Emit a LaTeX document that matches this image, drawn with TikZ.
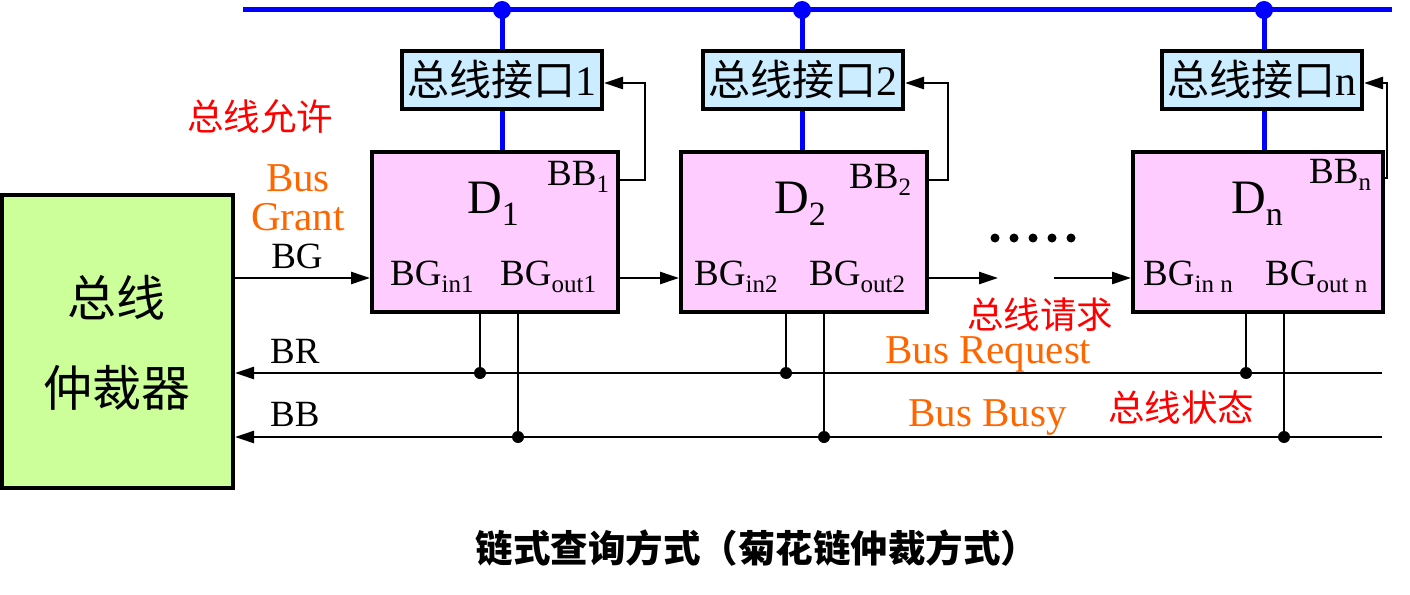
\documentclass[tikz,border=0pt]{standalone}
\usepackage{fontspec}
\setmainfont{Liberation Serif}
\newfontfamily\cjk{Noto Sans CJK SC}
\usetikzlibrary{arrows.meta,calc}
\definecolor{pinkD}{HTML}{FFCCFF}
\definecolor{ifcblue}{HTML}{CCECFF}
\definecolor{arbgreen}{HTML}{CCFF99}
\definecolor{orng}{HTML}{FF6600}
\definecolor{busblue}{HTML}{0000FF}
\newcommand\bgsub[1]{\raisebox{-7pt}{\fontsize{25}{25}\selectfont #1}}
\newcommand\dsub[1]{\raisebox{-12pt}{\fontsize{34}{34}\selectfont #1}}
\begin{document}
\begin{tikzpicture}[x=1pt,y=-1pt,
  dev/.style={draw, line width=4pt, fill=pinkD, minimum width=246pt, minimum height=160pt, inner sep=0pt, anchor=north west},
  ifc/.style={draw, line width=4pt, fill=ifcblue, minimum width=200pt, minimum height=58pt, inner sep=0pt, font=\fontsize{42}{42}\selectfont},
  arb/.style={draw, line width=4pt, fill=arbgreen, minimum width=231pt, minimum height=293pt, inner sep=0pt},
  wire/.style={line width=2.5pt},
  arr/.style={wire, -{Triangle[length=19pt,width=12pt]}},
  bus/.style={line width=5pt, busblue},
  lbl/.style={inner sep=0pt, font=\fontsize{37}{37}\selectfont},
  dlbl/.style={inner sep=0pt, anchor=base west, font=\fontsize{48}{48}\selectfont},
  olbl/.style={inner sep=0pt, text=orng, font=\fontsize{41}{41}\selectfont},
  rlbl/.style={inner sep=0pt, text=red, font=\cjk\fontsize{36.5}{36.5}\selectfont},
  jdot/.style={fill, circle, inner sep=0pt, minimum size=12pt},
  bdot/.style={fill=busblue, circle, inner sep=0pt, minimum size=18pt}
]
\useasboundingbox (0,0) rectangle (1410,594);

% coordinates
\coordinate (busL) at (243,10);
\coordinate (busR) at (1392,10);
\coordinate (t1) at (502,10);
\coordinate (t2) at (802,10);
\coordinate (tn) at (1264,10);

% bus
\draw[bus] (busL) -- (busR);

% devices
\node[dev] (d1) at (370,150) {};
\node[dev] (d2) at (679,150) {};
\node[dev, minimum width=250pt] (dn) at (1131,150) {};

% blue taps
\draw[bus] (t1) -- (t1 |- d1.north);
\draw[bus] (t2) -- (t2 |- d2.north);
\draw[bus] (tn) -- (tn |- dn.north);
\node[bdot] (b1) at (t1) {};
\node[bdot] (b2) at (t2) {};
\node[bdot] (bn) at (tn) {};

% interfaces
\node[ifc] (i1) at (502,80) {{\cjk 总线接口}1};
\node[ifc] (i2) at (803,80) {{\cjk 总线接口}2};
\node[ifc] (in) at (1262,80) {{\cjk 总线接口}n};

% arbiter
\node[arb] (arb) at (117.5,341.5) {};
\node[inner sep=0pt, font=\cjk\fontsize{49}{49}\selectfont] (arbt1) at (116,298) {总线};
\node[inner sep=0pt, font=\cjk\fontsize{49}{49}\selectfont] (arbt2) at (117,388) {仲裁器};

% device labels
\foreach \d/\k/\dd/\dbb/\bby in {d1/1/97/177/185, d2/2/95/170/188, dn/n/100/178/183}{
  \node[dlbl] (\d D) at ($(\d.north west)+(\dd,63)$) {D\dsub{\k}};
  \node[lbl, anchor=base west] (\d BB) at ($(\d.north west)+(\dbb,\bby-150)$) {BB\bgsub{\k}};
}
\node[lbl, anchor=base west] (d1in) at ($(d1.north west)+(20,135)$) {BG\bgsub{in1}};
\node[lbl, anchor=base west] (d1out) at ($(d1.north west)+(130,135)$) {BG\bgsub{out1}};
\node[lbl, anchor=base west] (d2in) at ($(d2.north west)+(15,135)$) {BG\bgsub{in2}};
\node[lbl, anchor=base west] (d2out) at ($(d2.north west)+(130,135)$) {BG\bgsub{out2}};
\node[lbl, anchor=base west] (dnin) at ($(dn.north west)+(12,135)$) {BG\bgsub{in n}};
\node[lbl, anchor=base west] (dnout) at ($(dn.north west)+(134,135)$) {BG\bgsub{out n}};

% BB feedback
\coordinate (f1) at (645,83);
\coordinate (f2) at (948,83);
\coordinate (fn) at (1387,83);
\draw[arr] (d1.east |- 0,180) -| (f1) -- (i1.east |- f1);
\draw[arr] (d2.east |- 0,180) -| (f2) -- (i2.east |- f2);
\draw[arr] (dn.east |- 0,178) -| (fn) -- (in.east |- fn);

% BG chain
\coordinate (bgy) at (0,278);
\coordinate (g1) at (998,278);
\coordinate (g2) at (1054,278);
\draw[arr] (arb.east |- bgy) -- (d1.west |- bgy);
\draw[arr] (d1.east |- bgy) -- (d2.west |- bgy);
\draw[arr] (d2.east |- bgy) -- (g1);
\draw[arr] (g2) -- (dn.west |- bgy);

% ellipsis dots
\foreach \i in {0,...,4}{\node[fill, circle, inner sep=0pt, minimum size=9pt] (el\i) at (995+19*\i,238) {};}

% BR / BB lines
\coordinate (brR) at (1382,373);
\coordinate (bbR) at (1382,437);
\draw[arr] (brR) -- (arb.east |- brR);
\draw[arr] (bbR) -- (arb.east |- bbR);
\coordinate (r1) at (480,373);
\coordinate (r2) at (786,373);
\coordinate (rn) at (1246,373);
\coordinate (s1) at (518,437);
\coordinate (s2) at (824,437);
\coordinate (sn) at (1284,437);
\foreach \c/\d in {r1/d1, r2/d2, rn/dn, s1/d1, s2/d2, sn/dn}{
  \draw[wire] (\c |- \d.south) -- (\c);
  \node[jdot] (\c dot) at (\c) {};
}

% labels
\node[rlbl] (grantcn) at (260,117) {总线允许};
\node[olbl, anchor=base] (bus1) at (298,191) {Bus};
\node[olbl, anchor=base] (grant) at (298,230) {Grant};
\node[lbl, anchor=base] (bg) at (297,268) {BG};
\node[lbl, anchor=base west] (br) at (270,363) {BR};
\node[lbl, anchor=base west] (bb) at (270,426) {BB};
\node[rlbl] (reqcn) at (1040,315) {总线请求};
\node[olbl, anchor=base west] (req) at (885,363) {Bus Request};
\node[olbl, anchor=base west] (busy) at (908,426) {Bus Busy};
\node[rlbl] (busycn) at (1181,408) {总线状态};

% caption
\node[inner sep=0pt, font=\cjk\bfseries\fontsize{37.5}{37.5}\selectfont] (cap) at (757,548) {链式查询方式（菊花链仲裁方式）};
\end{tikzpicture}
\end{document}
